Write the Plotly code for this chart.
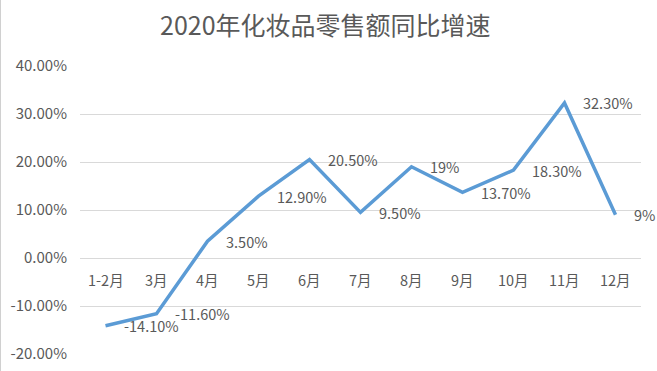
import plotly.graph_objects as go

categories = ["1-2月", "3月", "4月", "5月", "6月", "7月", "8月", "9月", "10月", "11月", "12月"]
growth_pct = [-14.1, -11.6, 3.5, 12.9, 20.5, 9.5, 19.0, 13.7, 18.3, 32.3, 9.0]
value_labels = ["-14.10%", "-11.60%", "3.50%", "12.90%", "20.50%", "9.50%", "19%", "13.70%", "18.30%", "32.30%", "9%"]
y_ticks = [-20, -10, 0, 10, 20, 30, 40]
y_tick_labels = ["-20.00%", "-10.00%", "0.00%", "10.00%", "20.00%", "30.00%", "40.00%"]

FONT = "Noto Sans CJK SC"
GREY = "#595959"
W, H = 657, 371
M_L, M_R, M_T, M_B = 80, 16, 66, 17
PLOT_W = W - M_L - M_R
PLOT_H = H - M_T - M_B

fig = go.Figure()
fig.add_trace(go.Scatter(
    x=categories, y=growth_pct, mode="lines",
    line=dict(color="#5B9BD5", width=3.5),
    hoverinfo="skip", showlegend=False,
))

annotations = []
for c, v, t in zip(categories, growth_pct, value_labels):
    annotations.append(dict(x=c, y=v, xref="x", yref="y", text=t, showarrow=False,
                            xanchor="left", yanchor="middle", xshift=16,
                            font=dict(family=FONT, size=14.5, color=GREY)))
for c in categories:
    annotations.append(dict(x=c, y=-4.4, xref="x", yref="y", text=c, showarrow=False,
                            xanchor="center", yanchor="middle",
                            font=dict(family=FONT, size=14.5, color=GREY)))
annotations.append(dict(x=(325 - M_L) / PLOT_W, y=1 + 42 / PLOT_H, xref="paper", yref="paper",
                        text="2020年化妆品零售额同比增速", showarrow=False,
                        xanchor="center", yanchor="middle",
                        font=dict(family=FONT, size=25, color=GREY)))

# faint chart-frame line along the left edge
frame_x = (0.5 - M_L) / PLOT_W
shapes = [dict(type="line", xref="paper", yref="paper",
               x0=frame_x, x1=frame_x, y0=-M_B / PLOT_H, y1=1 + M_T / PLOT_H,
               line=dict(color="#D0D0D0", width=1))]

fig.update_layout(
    width=W, height=H,
    margin=dict(l=M_L, r=M_R, t=M_T, b=M_B, autoexpand=False),
    paper_bgcolor="white", plot_bgcolor="white",
    xaxis=dict(type="category", range=[-0.5, 10.5], showticklabels=False,
               showgrid=False, zeroline=False, showline=False, ticks="",
               automargin=False),
    yaxis=dict(range=[-20, 40], tickvals=y_ticks, ticktext=y_tick_labels,
               showgrid=True, gridcolor="#D9D9D9", gridwidth=1,
               zeroline=False, showline=False, ticks="",
               tickfont=dict(family=FONT, size=15, color=GREY),
               ticklabelstandoff=12, automargin=False),
    annotations=annotations,
    shapes=shapes,
)

fig.write_html("out.html", config={"displayModeBar": False},
               post_script="document.body.style.margin='0';document.body.style.overflow='hidden';")
